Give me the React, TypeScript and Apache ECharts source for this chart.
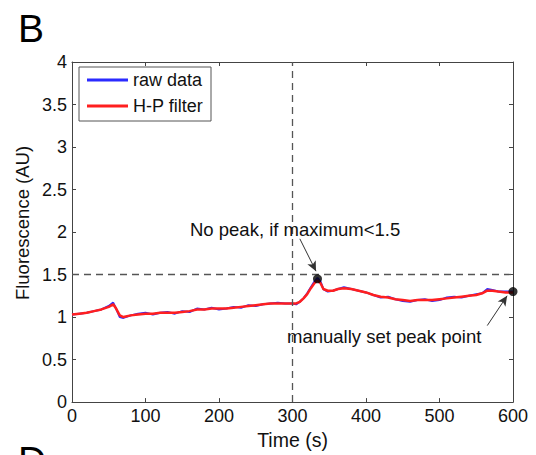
import React, { useEffect, useRef } from "react";
import * as echarts from "echarts";

const times = [0, 10, 20, 30, 40, 50, 56, 60, 65, 70, 80, 90, 100, 110, 120, 130, 140, 150, 160, 170, 180, 190, 200, 210, 220, 230, 240, 250, 260, 270, 280, 290, 300, 305, 310, 315, 320, 325, 330, 334, 338, 342, 348, 355, 362, 370, 380, 390, 400, 410, 420, 430, 440, 450, 460, 470, 480, 490, 500, 510, 520, 530, 540, 550, 558, 565, 572, 580, 590, 600];

const rawData = [1.03, 1.04, 1.05, 1.07, 1.09, 1.13, 1.17, 1.10, 1.00, 0.99, 1.02, 1.04, 1.05, 1.03, 1.05, 1.06, 1.04, 1.07, 1.06, 1.10, 1.09, 1.11, 1.09, 1.10, 1.12, 1.11, 1.14, 1.13, 1.15, 1.16, 1.17, 1.16, 1.16, 1.15, 1.18, 1.22, 1.28, 1.35, 1.42, 1.46, 1.42, 1.33, 1.30, 1.31, 1.33, 1.35, 1.33, 1.31, 1.29, 1.26, 1.23, 1.24, 1.21, 1.19, 1.18, 1.20, 1.21, 1.19, 1.20, 1.23, 1.24, 1.23, 1.25, 1.27, 1.28, 1.33, 1.32, 1.30, 1.30, 1.30];

const hpFilter = [1.03, 1.04, 1.05, 1.07, 1.09, 1.12, 1.15, 1.10, 1.02, 1.00, 1.02, 1.03, 1.04, 1.04, 1.05, 1.05, 1.05, 1.06, 1.07, 1.09, 1.09, 1.10, 1.10, 1.10, 1.11, 1.12, 1.13, 1.14, 1.15, 1.16, 1.16, 1.16, 1.16, 1.16, 1.18, 1.22, 1.27, 1.34, 1.40, 1.43, 1.40, 1.33, 1.31, 1.31, 1.33, 1.34, 1.33, 1.31, 1.29, 1.26, 1.24, 1.23, 1.21, 1.20, 1.19, 1.20, 1.20, 1.20, 1.21, 1.22, 1.23, 1.24, 1.25, 1.26, 1.28, 1.31, 1.31, 1.30, 1.29, 1.29];

const threshold = 1.5;
const manualTime = 300;
const markedPoints = [
  [334, 1.45],
  [600, 1.3],
];
const arrowNoPeak = [
  [310, 1.92],
  [332, 1.54],
];
const arrowManual = [
  [565, 0.9],
  [592, 1.25],
];

const FONT = "'Liberation Sans', Arial, Helvetica, sans-serif";

export default function App() {
  const ref = useRef<HTMLDivElement>(null);

  useEffect(() => {
    if (!ref.current) return;
    const chart = echarts.init(ref.current, null, { renderer: "svg" });
    const axisColor = "#444";
    const rawPairs = times.map((t, i) => [t, rawData[i]]);
    const hpPairs = times.map((t, i) => [t, hpFilter[i]]);

    const baseX = {
      type: "value",
      min: 0,
      max: 600,
      interval: 100,
      gridIndex: 0,
      splitLine: { show: false },
      axisLine: { show: true, onZero: false, lineStyle: { color: axisColor, width: 1 } },
      axisTick: { show: true, inside: true, length: 4, lineStyle: { color: axisColor } },
    };
    const baseY = {
      type: "value",
      min: 0,
      max: 4,
      interval: 0.5,
      gridIndex: 0,
      splitLine: { show: false },
      axisLine: { show: true, onZero: false, lineStyle: { color: axisColor, width: 1 } },
      axisTick: { show: true, inside: true, length: 4, lineStyle: { color: axisColor } },
    };

    chart.setOption({
      animation: false,
      backgroundColor: "#fff",
      textStyle: { fontFamily: FONT },
      grid: { left: 72, right: 23, top: 62, bottom: 51, containLabel: false },
      legend: {
        left: 79,
        top: 67,
        orient: "vertical",
        data: ["raw data", "H-P filter"],
        icon: "rect",
        itemWidth: 41,
        itemHeight: 3,
        itemGap: 8,
        padding: [4, 8, 6, 8],
        backgroundColor: "#fff",
        borderColor: "#555",
        borderWidth: 1,
        borderRadius: 0,
        textStyle: { fontFamily: FONT, fontSize: 18, color: "#111" },
      },
      xAxis: [
        {
          ...baseX,
          position: "bottom",
          name: "Time (s)",
          nameLocation: "middle",
          nameGap: 24,
          nameTextStyle: { fontFamily: FONT, fontSize: 19.5, color: "#111" },
          axisLabel: { margin: 5, fontFamily: FONT, fontSize: 18, color: "#111" },
        },
        { ...baseX, position: "top", axisLabel: { show: false } },
      ],
      yAxis: [
        {
          ...baseY,
          position: "left",
          axisLabel: { margin: 5, fontFamily: FONT, fontSize: 18, color: "#111" },
        },
        { ...baseY, position: "right", axisLabel: { show: false } },
      ],
      series: [
        {
          name: "raw data",
          type: "line",
          xAxisIndex: 0,
          yAxisIndex: 0,
          data: rawPairs,
          showSymbol: false,
          lineStyle: { color: "#2b2bff", width: 2 },
          itemStyle: { color: "#2b2bff" },
          z: 2,
        },
        {
          name: "H-P filter",
          type: "line",
          xAxisIndex: 0,
          yAxisIndex: 0,
          data: hpPairs,
          showSymbol: false,
          lineStyle: { color: "#ff1f1f", width: 2.5 },
          itemStyle: { color: "#ff1f1f" },
          z: 3,
        },
        {
          name: "guides",
          type: "line",
          xAxisIndex: 0,
          yAxisIndex: 0,
          data: [],
          silent: true,
          markLine: {
            silent: true,
            symbol: ["none", "none"],
            label: { show: false },
            lineStyle: { color: "#555", width: 1.3, type: [7, 5] },
            data: [{ yAxis: threshold }, { xAxis: manualTime }],
          },
          z: 1,
        },
        {
          name: "arrows",
          type: "line",
          xAxisIndex: 0,
          yAxisIndex: 0,
          data: [],
          silent: true,
          markLine: {
            silent: true,
            symbol: ["none", "arrow"],
            symbolSize: [7, 10],
            label: { show: false },
            lineStyle: { color: "#333", width: 1, type: "solid" },
            data: [
              [{ coord: arrowNoPeak[0] }, { coord: arrowNoPeak[1] }],
              [{ coord: arrowManual[0] }, { coord: arrowManual[1] }],
            ],
          },
          z: 4,
        },
        {
          name: "peaks",
          type: "scatter",
          xAxisIndex: 0,
          yAxisIndex: 0,
          data: markedPoints,
          symbolSize: 9,
          clip: false,
          itemStyle: { color: "#000" },
          z: 5,
        },
      ],
      graphic: [
        {
          type: "text",
          left: 18,
          top: 9,
          style: { text: "B", fontFamily: FONT, fontSize: 39, fill: "#000" },
        },
        {
          type: "text",
          left: 18,
          top: 441,
          style: { text: "D", fontFamily: FONT, fontSize: 39, fill: "#000" },
        },
        {
          type: "text",
          x: 22,
          y: 223,
          rotation: Math.PI / 2,
          style: {
            text: "Fluorescence (AU)",
            fontFamily: FONT,
            fontSize: 18.5,
            fill: "#111",
            align: "center",
            verticalAlign: "middle",
          },
        },
        {
          type: "text",
          left: 190,
          top: 220,
          style: { text: "No peak, if maximum<1.5", fontFamily: FONT, fontSize: 18.5, fill: "#111" },
          z: 10,
        },
        {
          type: "text",
          left: 287,
          top: 327,
          style: { text: "manually set peak point", fontFamily: FONT, fontSize: 18.5, fill: "#111" },
          z: 10,
        },
      ],
    });
    return () => chart.dispose();
  }, []);

  return (
    <div
      ref={ref}
      style={{ position: "fixed", left: 0, top: 0, width: 536, height: 455, background: "#fff" }}
    />
  );
}
